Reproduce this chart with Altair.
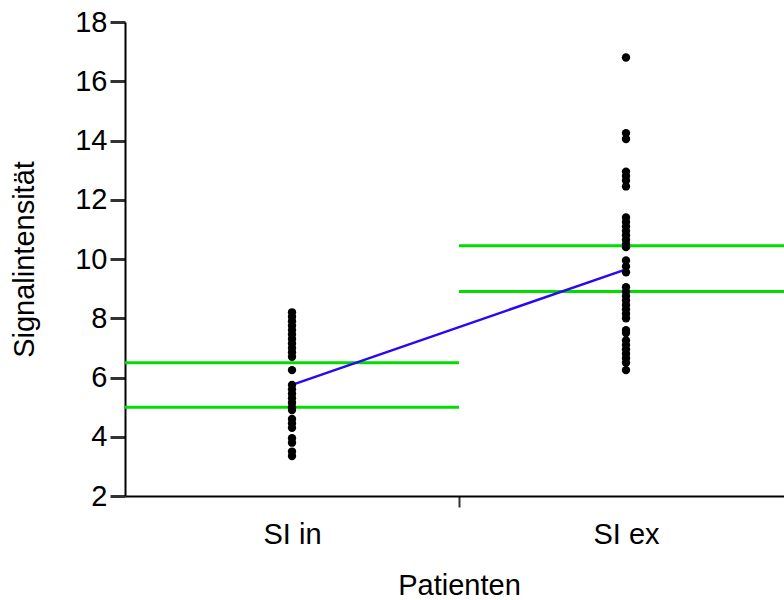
import altair as alt
import pandas as pd

# Groups and their positions on the x scale (each group owns one unit-wide band)
groups = ["SI in", "SI ex"]
group_pos = [0.5, 1.5]
band_start = [0, 1]
band_end = [1, 2]

# Individual signal intensities per patient
si_in = [8.2, 8.05, 7.9, 7.75, 7.6, 7.45, 7.3, 7.15, 7.0, 6.85, 6.7, 6.25,
         5.75, 5.6, 5.45, 5.3, 5.15, 5.0, 4.9, 4.6, 4.45, 4.3, 3.95, 3.8,
         3.5, 3.35]
si_ex = [16.8, 14.25, 14.05, 12.95, 12.8, 12.65, 12.45,
         11.4, 11.25, 11.1, 10.95, 10.8, 10.65, 10.5, 10.4,
         9.95, 9.75, 9.55,
         9.05, 8.9, 8.75, 8.6, 8.45, 8.3, 8.15, 8.0,
         7.6, 7.5, 7.25, 7.1, 6.95, 6.8, 6.65, 6.5, 6.25]

# Group centre (connected line) and interval limits (horizontal lines)
centre = [5.75, 9.65]
lower = [5.0, 8.9]
upper = [6.5, 10.45]

points = pd.DataFrame({
    "pos": [group_pos[0]] * len(si_in) + [group_pos[1]] * len(si_ex),
    "value": si_in + si_ex,
})
summary = pd.DataFrame({
    "group": groups,
    "pos": group_pos,
    "start": band_start,
    "end": band_end,
    "centre": centre,
    "lower": lower,
    "upper": upper,
})

FONT = "Liberation Sans"

# The x range runs a little past the right edge of the canvas, so the
# second band is cut off at the border.
x_scale = alt.Scale(domain=[0, 2], range=[0, 668], nice=False, zero=False)
y_scale = alt.Scale(domain=[2, 18], nice=False, zero=False)

x_axis = alt.Axis(
    values=[0.5, 1, 1.5],
    labelExpr="datum.value == 0.5 ? 'SI in' : datum.value == 1.5 ? 'SI ex' : ''",
    tickOpacity={"condition": {"test": "datum.value == 1", "value": 1}, "value": 0},
    tickSize=11,
    tickWidth=2,
    tickColor="#333333",
    labelPadding=13,
    title="Patienten",
    titlePadding=22,
    grid=False,
)
y_axis = alt.Axis(
    values=[2, 4, 6, 8, 10, 12, 14, 16, 18],
    tickSize=15,
    tickWidth=3,
    tickColor="#333333",
    labelPadding=3,
    title="Signalintensität",
    titlePadding=35,
    grid=False,
)

dots = alt.Chart(points).mark_circle(size=70, color="black", opacity=1).encode(
    x=alt.X("pos:Q", scale=x_scale, axis=x_axis),
    y=alt.Y("value:Q", scale=y_scale, axis=y_axis),
)

limits = alt.Chart(summary).transform_fold(
    ["lower", "upper"], as_=["kind", "level"]
).mark_rule(color="#00dd00", strokeWidth=3).encode(
    x="start:Q",
    x2="end:Q",
    y="level:Q",
)

centre_line = alt.Chart(summary).mark_line(color="#2a08f5", strokeWidth=2.5).encode(
    x="pos:Q",
    y="centre:Q",
)

chart = alt.layer(limits, centre_line, dots).properties(
    width=659,
    height=474,
    autosize=alt.AutoSizeParams(type="none"),
    padding={"left": 125, "top": 22, "right": 0, "bottom": 104},
).configure_view(
    stroke=None
).configure_axis(
    domainColor="black",
    domainWidth=2,
    labelFont=FONT,
    labelFontSize=29,
    labelColor="black",
    titleFont=FONT,
    titleFontSize=29,
    titleFontWeight="normal",
    titleColor="black",
)

chart.save("out.html", embed_options={"renderer": "svg", "actions": False})
